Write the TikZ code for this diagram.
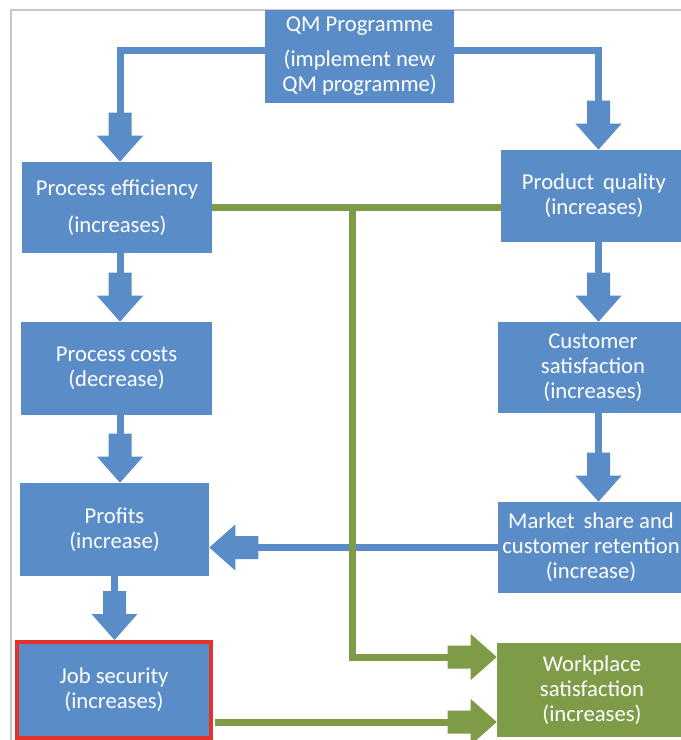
\documentclass[tikz,border=0pt]{standalone}
\usepackage{fontspec}
\setmainfont{Carlito}
\usetikzlibrary{calc}
\definecolor{qmblue}{HTML}{5A8DC8}
\definecolor{qmgreen}{HTML}{7E9C47}
\definecolor{qmred}{HTML}{E5322B}
\definecolor{qmframe}{HTML}{C8C8C8}
\newcommand\blockhead[3]{\fill[#3, shift={#1}, rotate=#2] (0,0) -- (-26,23) -- (-26,11.5) -- (-49,11.5) -- (-49,-11.5) -- (-26,-11.5) -- (-26,-23) -- cycle;}
\begin{document}
\begin{tikzpicture}[x=0.75pt,y=-0.75pt,
  box/.style={fill=qmblue, text=white, inner sep=0pt, align=center, font=\fontsize{17}{18.75}\selectfont},
  bline/.style={draw=qmblue, line width=5.25pt},
  gline/.style={draw=qmgreen, line width=5.25pt},
]
\clip (0,0) rectangle (681,740);
\fill[white] (0,0) rectangle (681,740);
\draw[qmframe, line width=1.5pt] (11,741) -- (11,10) -- (682,10);

% nodes
\node[box, minimum width=141.75pt, minimum height=69.75pt] (qm) at (359.5,56.5) {QM Programme\\[7.5pt](implement new\\QM programme)};
\node[box, minimum width=142.5pt, minimum height=68.25pt] (pe) at (117,207.5) {Process efficiency\\[9pt](increases)};
\node[box, minimum width=143.25pt, minimum height=69.75pt] (pc) at (116.5,368.5) {Process costs\\(decrease)};
\node[box, minimum width=141.75pt, minimum height=69.75pt] (pr) at (114.5,529.5) {Profits\\(increase)};
\node[box, draw=qmred, line width=3pt, minimum width=145.5pt, minimum height=72pt] (js) at (114,690) {Job security\\(increases)};
\node[box, minimum width=139.5pt, minimum height=69pt] (pq) at (594,196) {Product\,\ quality\\(increases)};
\node[box, minimum width=142.5pt, minimum height=68.25pt] (cs) at (593,367.5) {Customer\\satisfaction\\(increases)};
\node[box, minimum width=139.5pt, minimum height=68.25pt] (ms) at (591,547.5) {Market\,\ share and\\customer retention\\(increase)};
\node[box, fill=qmgreen, minimum width=142.5pt, minimum height=70.5pt] (ws) at (592,690) {Workplace\\satisfaction\\(increases)};

% helper coordinates
\coordinate (lc) at (120,0);
\coordinate (rc) at (598.5,0);
\coordinate (qy) at (0,50);
\coordinate (jn) at (352,0);
\coordinate (gy) at (0,657);
\coordinate (jy) at (0,722);

% blue connectors
\draw[bline] (qm.west |- qy) -| ($(lc |- pe.north)+(0,-49)$);
\blockhead{(lc |- pe.north)}{-90}{qmblue}
\draw[bline] (qm.east |- qy) -| ($(rc |- pq.north)+(0,-49)$);
\blockhead{(rc |- pq.north)}{-90}{qmblue}
\draw[bline] (lc |- pe.south) -- ($(lc |- pc.north)+(0,-49)$);
\blockhead{(lc |- pc.north)}{-90}{qmblue}
\draw[bline] (lc |- pc.south) -- ($(lc |- pr.north)+(0,-49)$);
\blockhead{(lc |- pr.north)}{-90}{qmblue}
\draw[bline] (pr.south) -- ($(pr.south |- js.north)+(0,-49)$);
\blockhead{(pr.south |- js.north)}{-90}{qmblue}
\draw[bline] (rc |- pq.south) -- ($(rc |- cs.north)+(0,-49)$);
\blockhead{(rc |- cs.north)}{-90}{qmblue}
\draw[bline] (rc |- cs.south) -- ($(rc |- ms.north)+(0,-49)$);
\blockhead{(rc |- ms.north)}{-90}{qmblue}
\draw[bline] (ms.west) -- ($(pr.east |- ms.west)+(49,0)$);
\blockhead{(pr.east |- ms.west)}{180}{qmblue}

% green connectors
\draw[gline] (pe.east) -- (pq.west |- pe.east);
\draw[gline] (jn |- pe.east) |- ($(ws.west |- gy)+(-49,0)$);
\blockhead{(ws.west |- gy)}{0}{qmgreen}
\draw[gline] ([xshift=1.5pt]js.east |- jy) -- ($(ws.west |- jy)+(-49,0)$);
\blockhead{(ws.west |- jy)}{0}{qmgreen}
\end{tikzpicture}
\end{document}
